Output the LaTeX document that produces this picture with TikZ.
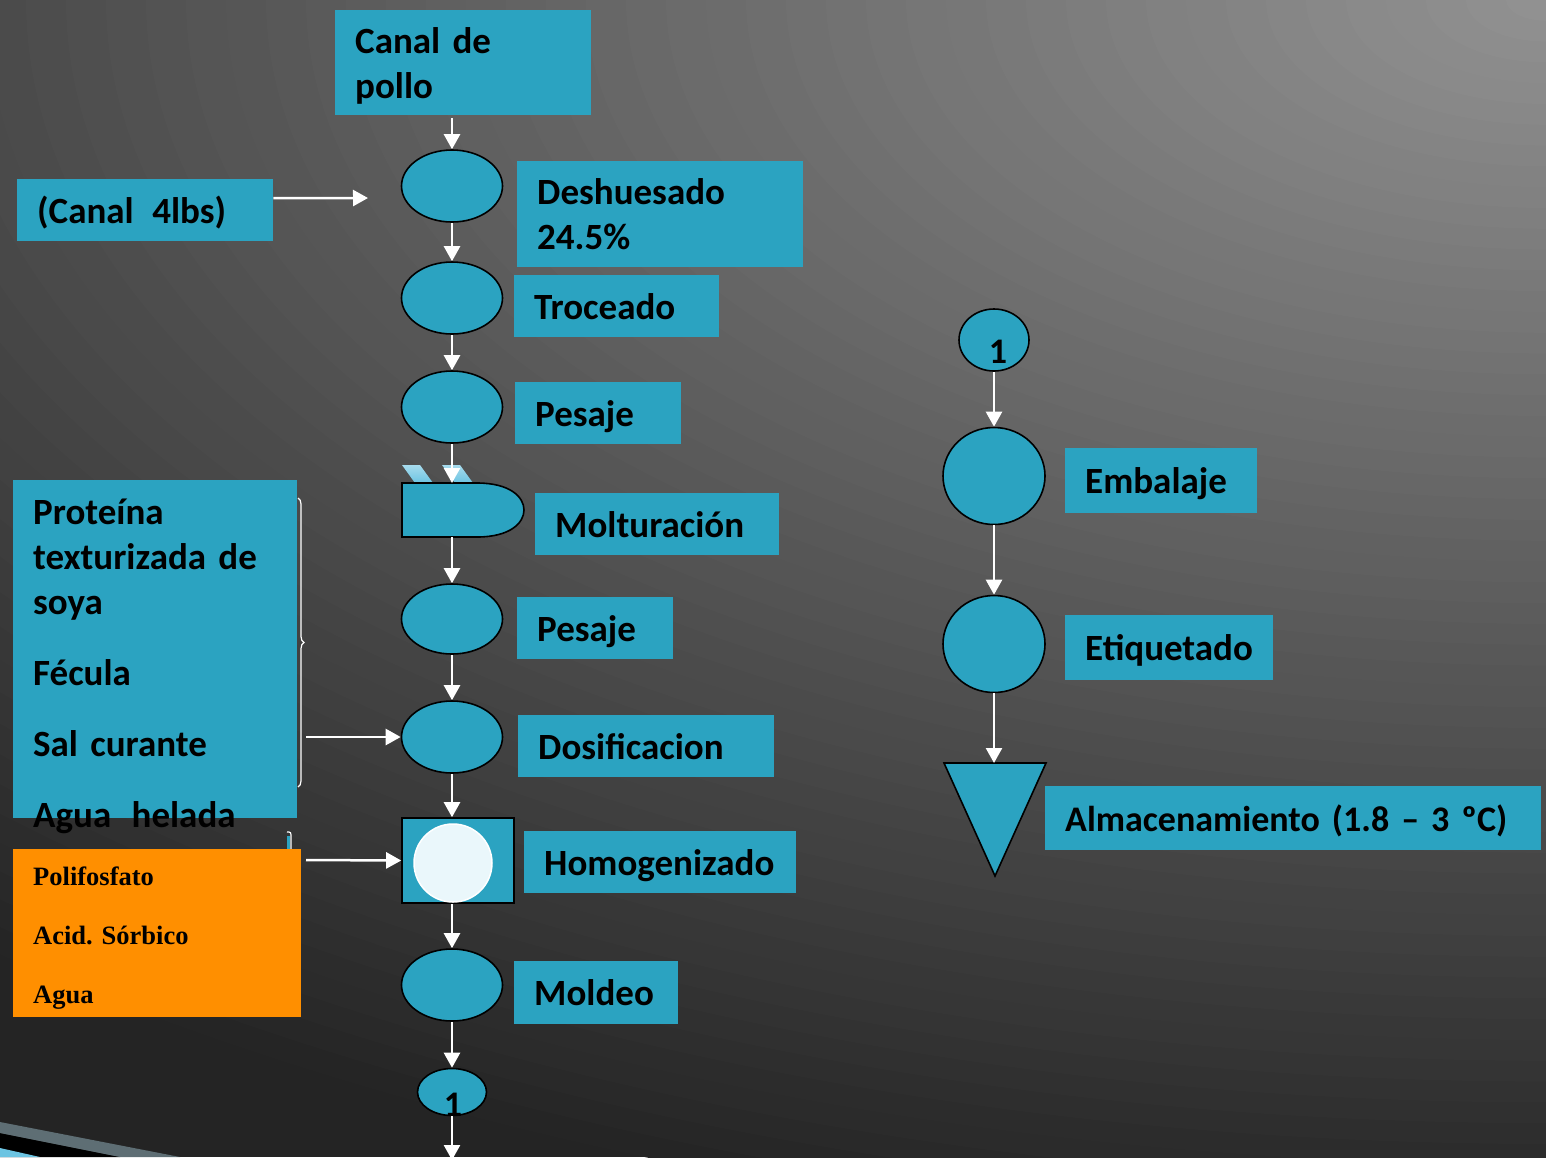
\documentclass[tikz,border=0pt]{standalone}
\usepackage{fontspec}
\setmainfont{Carlito}
\newfontfamily\serifa{Liberation Serif}
\usepackage{xcolor}
\usepackage{tikz}
\usetikzlibrary{calc}
\usetikzlibrary{shapes.geometric,arrows.meta}
\usetikzlibrary{decorations.pathreplacing}

\definecolor{azul}{HTML}{2BA3C1}
\definecolor{naranja}{HTML}{FF8F00}
\definecolor{celeste}{HTML}{6CC4E2}
\definecolor{hielo}{HTML}{EAF7FB}
\definecolor{franja}{HTML}{5E6E74}

\begin{document}
\begin{tikzpicture}[x=1pt,y=-1pt,
    caja/.style={fill=azul, anchor=north west, align=left, inner xsep=20pt, inner ysep=0pt,
        text height=30pt, text depth=4pt, font=\fontsize{37}{45}\selectfont\bfseries},
    paso/.style={ellipse, draw=black, line width=1.6pt, fill=azul, inner sep=0pt,
        minimum width=101pt, minimum height=72pt},
    flecha/.style={white, line width=2.5pt, -{Triangle[width=16pt,length=15pt]}}]

        %FONDO
        \useasboundingbox (0,0) rectangle (1546,1157);
        \begin{scope}
            \clip (0,0) rectangle (1546,1157);
            \fill[black!86] (0,0) rectangle (1546,1157);
            \foreach \k in {60,59,...,1}{
                \pgfmathsetmacro\p{42.4+43.1*\k/60}
                \fill[black!\p] (1546,0) ellipse [x radius=40*\k, y radius=20.8*\k];
            }
            %ESQUINA
            \fill[black] (0,1133) -- (120,1157) -- (0,1157) -- cycle;
            \fill[franja] (0,1122) -- (180,1157) -- (120,1157) -- (0,1133) -- cycle;
            \fill[celeste] (0,1148) -- (40,1157) -- (0,1157) -- cycle;
        \end{scope}

        %CAJAS
        \node[caja, text width=216pt, text depth=49pt, minimum height=105pt] (canal) at (335,10) {Canal de\\pollo};
        \node[caja, text width=216pt, minimum height=62pt] (canal4) at (17,179) {(Canal\hspace{0.5em}4lbs)};
        \node[caja, text width=246pt, text depth=49pt, minimum height=106pt] (deshuesado) at (517,161) {Deshuesado\\24.5\%};
        \node[caja, text width=165pt, minimum height=62pt] (troceado) at (514,275) {Troceado};
        \node[caja, text width=126pt, minimum height=62pt] (pesaje1) at (515,382) {Pesaje};
        \node[caja, text width=204pt, minimum height=62pt] (molturacion) at (535,493) {Molturación};
        \node[caja, text width=116pt, minimum height=62pt] (pesaje2) at (517,597) {Pesaje};
        \node[caja, text width=216pt, minimum height=62pt] (dosificacion) at (518,715) {Dosificacion};
        \node[caja, text width=232pt, minimum height=62pt] (homogenizado) at (524,831) {Homogenizado};
        \node[caja, text width=124pt, minimum height=63pt] (moldeo) at (514,961) {Moldeo};
        \node[caja, text width=152pt, minimum height=65pt] (embalaje) at (1065,448) {Embalaje};
        \node[caja, text width=168pt, minimum height=65pt] (etiquetado) at (1065,615) {Etiquetado};
        \node[caja, text width=456pt, minimum height=64pt, font=\fontsize{36}{45}\selectfont\bfseries] (almacen) at (1045,786) {Almacenamiento (1.8 – 3 ºC)};

        %INSUMOS
        \fill[azul] (13,480) rectangle (297,818);
        \node[caja, fill=none, inner xsep=0pt, text width=260pt, text height=30pt, text depth=312pt] (insumos) at (33,494)
            {Proteína\\texturizada de\\soya\\[26pt]Fécula\\[26pt]Sal curante\\[26pt]Agua\hspace{0.55em}helada};
        \draw[white, line width=1.2pt, decorate, decoration={brace, amplitude=6pt}] (298,498) -- (298,787);
        \fill[azul] (287,836) rectangle (290,850);
        \draw[white, line width=1.2pt] (287,832) .. controls (291,832) .. (291,838) -- (291,850);
        \node[caja, fill=naranja, text width=248pt, text height=36pt, text depth=132pt,
            font=\serifa\fontsize{26.5}{59}\selectfont\bfseries] (aditivos) at (13,849)
            {Polifosfato\\Acid.\ Sórbico\\Agua};

        %OPERACIONES
        \node[paso] (op1) at (452,186) {};
        \node[paso] (op2) at (452,298) {};
        \node[paso] (op3) at (452,407) {};
        \node[paso, minimum height=70pt] (op4) at (452,619) {};
        \node[paso] (op5) at (452,737) {};
        \node[paso] (op6) at (452,985) {};
        \node[paso, minimum width=69pt, minimum height=47pt] (con1) at (452,1092) {};
        \node[font=\fontsize{36}{36}\selectfont\bfseries] (uno1) at (453,1105) {1};

        %MOLTURACION
        \shade[top color=celeste!60!white, bottom color=celeste] (402,465) -- (420,465) -- (433,483) -- (415,483) -- cycle;
        \shade[top color=celeste!60!white, bottom color=celeste] (442,465) -- (460,465) -- (473,483) -- (455,483) -- cycle;
        \filldraw[fill=azul, draw=black, line width=1.6pt] (402,483) -- (477,483)
            .. controls (510,483) and (524,497) .. (524,510)
            .. controls (524,523) and (510,537) .. (477,537) -- (402,537) -- cycle;
        \coordinate (moltop) at (452,483);
        \coordinate (moltbot) at (452,537);

        %HOMOGENIZADO
        \node[draw=black, line width=1.6pt, fill=azul, minimum width=112pt, minimum height=85pt, inner sep=0pt] (hom) at (458,860.5) {};
        \node[circle, draw=white, line width=1.5pt, fill=hielo, minimum size=78pt, inner sep=0pt] (bola) at (453,863) {};

        %DERECHA
        \node[paso, minimum width=70pt, minimum height=62pt] (con2) at (994,340) {};
        \node[font=\fontsize{36}{36}\selectfont\bfseries] (uno2) at (998,351.5) {1};
        \node[paso, minimum width=102pt, minimum height=97pt] (op7) at (994,476) {};
        \node[paso, minimum width=102pt, minimum height=97pt] (op8) at (994,644) {};
        \filldraw[fill=azul, draw=black, line width=1.6pt] (944,763) -- (1046,763) -- (995,876) -- cycle;
        \coordinate (almtop) at (994,763);

        %FLECHAS
        \coordinate (fin4lbs) at (368,198);
        \coordinate (inicio1) at (306,737);
        \coordinate (inicio2) at (306,860);
        \coordinate (salida) at (452,1160);
        \draw[flecha, shorten <=3pt] (op1.north |- canal.south) -- (op1.north);
        \draw[flecha] ([yshift=12pt]canal4.east) -- (fin4lbs);
        \draw[flecha] (op1.south) -- (op2.north);
        \draw[flecha] (op2.south) -- (op3.north);
        \draw[flecha] (op3.south) -- (moltop);
        \draw[flecha] (moltbot) -- (op4.north);
        \draw[flecha] (op4.south) -- (op5.north);
        \draw[flecha] (op5.south) -- (op5.south |- hom.north);
        \draw[flecha] (op6.north |- hom.south) -- (op6.north);
        \draw[flecha] (op6.south) -- (con1.north);
        \draw[flecha] (con1.south) -- (salida);
        \draw[flecha] (inicio1) -- (op5.west);
        \draw[flecha] (inicio2) -- (hom.west);
        \draw[flecha] (con2.south) -- (op7.north);
        \draw[flecha] (op7.south) -- (op8.north);
        \draw[flecha] (op8.south) -- (almtop);
    \end{tikzpicture}
\end{document}
